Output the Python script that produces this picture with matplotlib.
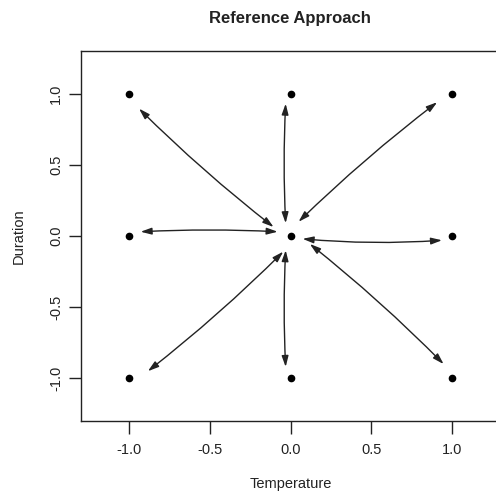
import matplotlib.pyplot as plt
import numpy as np

# design points (temperature, duration)
temp = [-1, 0, 1, -1, 0, 1, -1, 0, 1]
dur = [1, 1, 1, 0, 0, 0, -1, -1, -1]

# arrows: start near centre -> end near outer point, curvature
arr_start = [(-0.105, 0.063), (-0.030, 0.090), (0.050, 0.100), (0.075, -0.020),
             (0.120, -0.056), (-0.030, -0.100), (-0.045, -0.110), (-0.080, 0.030)]
arr_end = [(-0.94, 0.895), (-0.030, 0.930), (0.910, 0.940), (0.940, -0.030),
           (0.950, -0.900), (-0.030, -0.920), (-0.885, -0.950), (-0.930, 0.030)]
arr_rad = [-0.03, -0.025, -0.03, 0.04, -0.03, 0.025, -0.03, 0.025]

plt.rcParams['font.family'] = ['Liberation Sans', 'DejaVu Sans']

fig = plt.figure(figsize=(4.96, 4.94), dpi=100)
ax = fig.add_axes([81 / 496, 1 - 421 / 494, (500 - 81) / 496, (421 - 51) / 494])

for (x0, y0), (x1, y1), r in zip(arr_start, arr_end, arr_rad):
    ax.annotate('', xy=(x1, y1), xytext=(x0, y0),
                arrowprops=dict(arrowstyle='<|-|>,head_length=0.65,head_width=0.2',
                                connectionstyle='arc3,rad=%g' % r,
                                color='#222222', lw=1.0,
                                shrinkA=0, shrinkB=0))

ax.plot(temp, dur, 'o', color='black', markersize=4.5, zorder=3)

ax.set_xlim(-1.3, 1.3)
ax.set_ylim(-1.3, 1.3)
ticks = [-1.0, -0.5, 0.0, 0.5, 1.0]
ax.set_xticks(ticks)
ax.set_yticks(ticks)
ax.set_xticklabels(['%.1f' % t for t in ticks], fontsize=10.5, color='#222222')
ax.set_yticklabels(['%.1f' % t for t in ticks], fontsize=10.5, color='#222222',
                   rotation=90, va='center')
ax.tick_params(direction='out', length=9, width=1, pad=4, color='#222222')
ax.tick_params(axis='x', pad=7)
for s in ax.spines.values():
    s.set_linewidth(1.0)
    s.set_color('#222222')

ax.set_xlabel('Temperature', fontsize=10.5, labelpad=14, color='#222222')
ax.set_ylabel('Duration', fontsize=10.5, labelpad=17, color='#222222')
fig.text(290 / 496, 1 - 18 / 494, 'Reference Approach', fontsize=12,
         fontweight='bold', ha='center', va='center', color='#222222')

fig.savefig('out.png', dpi=100)
